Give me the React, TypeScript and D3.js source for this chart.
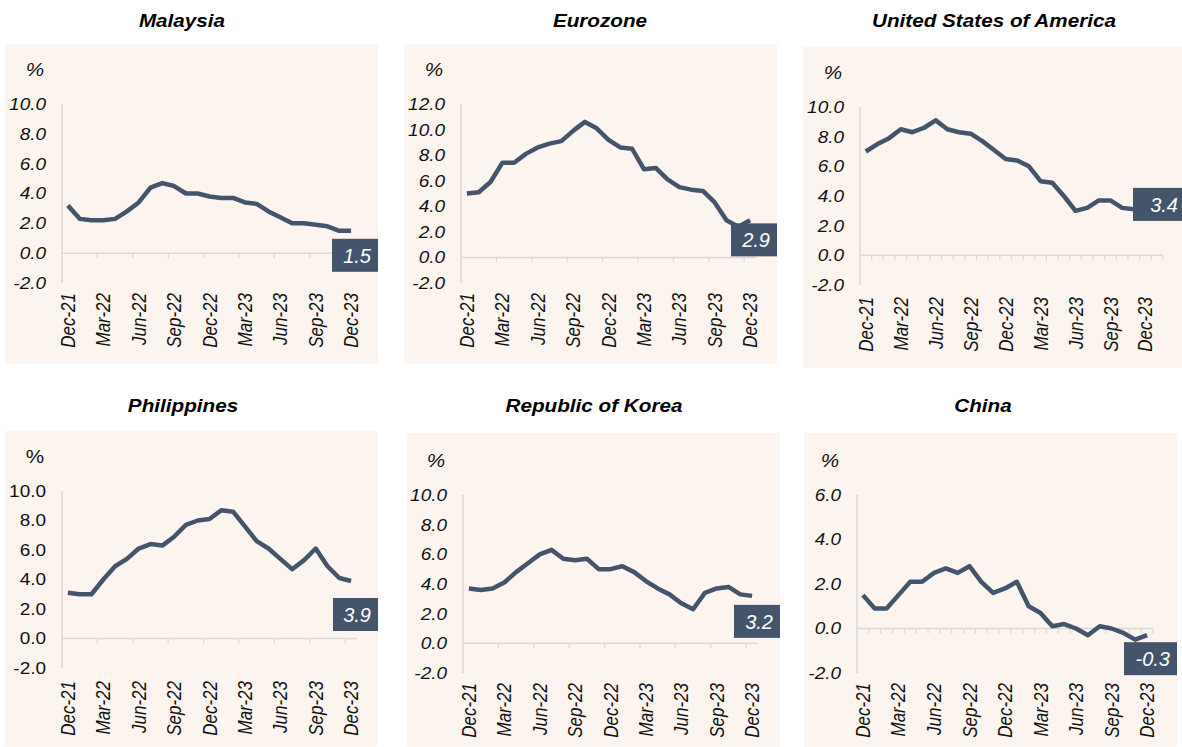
import React from "react";
import * as d3 from "d3";

// monthly categories, Dec-21 .. Dec-23
const months = [
  "Dec-21", "Jan-22", "Feb-22", "Mar-22", "Apr-22", "May-22", "Jun-22", "Jul-22", "Aug-22",
  "Sep-22", "Oct-22", "Nov-22", "Dec-22", "Jan-23", "Feb-23", "Mar-23", "Apr-23", "May-23",
  "Jun-23", "Jul-23", "Aug-23", "Sep-23", "Oct-23", "Nov-23", "Dec-23",
];
const xTickLabels = ["Dec-21", "Mar-22", "Jun-22", "Sep-22", "Dec-22", "Mar-23", "Jun-23", "Sep-23", "Dec-23"];

// inflation, % y-o-y
const malaysia = [3.2, 2.3, 2.2, 2.2, 2.3, 2.8, 3.4, 4.4, 4.7, 4.5, 4.0, 4.0, 3.8, 3.7, 3.7, 3.4, 3.3, 2.8, 2.4, 2.0, 2.0, 1.9, 1.8, 1.5, 1.5];
const eurozone = [5.0, 5.1, 5.9, 7.4, 7.4, 8.1, 8.6, 8.9, 9.1, 9.9, 10.6, 10.1, 9.2, 8.6, 8.5, 6.9, 7.0, 6.1, 5.5, 5.3, 5.2, 4.3, 2.9, 2.4, 2.9];
const usa = [7.0, 7.5, 7.9, 8.5, 8.3, 8.6, 9.1, 8.5, 8.3, 8.2, 7.7, 7.1, 6.5, 6.4, 6.0, 5.0, 4.9, 4.0, 3.0, 3.2, 3.7, 3.7, 3.2, 3.1, 3.4];
const philippines = [3.1, 3.0, 3.0, 4.0, 4.9, 5.4, 6.1, 6.4, 6.3, 6.9, 7.7, 8.0, 8.1, 8.7, 8.6, 7.6, 6.6, 6.1, 5.4, 4.7, 5.3, 6.1, 4.9, 4.1, 3.9];
const korea = [3.7, 3.6, 3.7, 4.1, 4.8, 5.4, 6.0, 6.3, 5.7, 5.6, 5.7, 5.0, 5.0, 5.2, 4.8, 4.2, 3.7, 3.3, 2.7, 2.3, 3.4, 3.7, 3.8, 3.3, 3.2];
const china = [1.5, 0.9, 0.9, 1.5, 2.1, 2.1, 2.5, 2.7, 2.5, 2.8, 2.1, 1.6, 1.8, 2.1, 1.0, 0.7, 0.1, 0.2, 0.0, -0.3, 0.1, 0.0, -0.2, -0.5, -0.3];

const yTicks10 = [-2, 0, 2, 4, 6, 8, 10];
const yTicks12 = [-2, 0, 2, 4, 6, 8, 10, 12];
const yTicks6 = [-2, 0, 2, 4, 6];

const LINE = "#44546A";
const AXIS = "#D9D9D9";
const BG = "#FCF5EF";
const FONT = "'Liberation Sans', Arial, sans-serif";
const SX = 1.15;

const fmt = d3.formatLocale({ decimal: ".", thousands: ",", grouping: [3], currency: ["", ""], minus: "-" }).format(".1f");

const panels = [
  { title: "Malaysia", values: malaysia, ticks: yTicks10, bg: [5, 44, 378, 364], x0: 62, yTop: 104, yBot: 283, slots: 25, step: 11.8, every: 3, titleX: 182, titleY: 27, boxX: 332, boxW: 46, boxDy: 8, italicY: true, lblDy: 10 },
  { title: "Eurozone", values: eurozone, ticks: yTicks12, bg: [404, 44, 777, 364], x0: 461, yTop: 104, yBot: 283, slots: 25, step: 11.8, every: 3, titleX: 600, titleY: 27, boxX: 731, boxW: 46, boxDy: 3, italicY: true, lblDy: 10 },
  { title: "United States of America", values: usa, ticks: yTicks10, bg: [803, 47, 1182, 368], x0: 860, yTop: 107, yBot: 285, slots: 26, step: 11.65, every: 1, titleX: 994, titleY: 27, boxX: 1133, boxW: 52, boxDy: -17, italicY: true, lblDy: 12 },
  { title: "Philippines", values: philippines, ticks: yTicks10, bg: [5, 431, 378, 746], x0: 62, yTop: 491, yBot: 668, slots: 25, step: 11.8, every: 3, titleX: 183, titleY: 412, boxX: 333, boxW: 45, boxDy: 17, italicY: false, lblDy: 13 },
  { title: "Republic of Korea", values: korea, ticks: yTicks10, bg: [407, 433, 780, 746], x0: 463, yTop: 495, yBot: 673, slots: 25, step: 11.8, every: 3, titleX: 594, titleY: 412, boxX: 734, boxW: 46, boxDy: 9, italicY: true, lblDy: 10 },
  { title: "China", values: china, ticks: yTicks6, bg: [804, 433, 1177, 746], x0: 857, yTop: 495, yBot: 673, slots: 25, step: 11.84, every: 1, titleX: 983, titleY: 412, boxX: 1124, boxW: 53, boxDy: 7, italicY: true, lblDy: 10 },
];

function Panel({ p }: { p: any }) {
  const x = d3.scaleBand<number>().domain(d3.range(p.slots)).range([p.x0, p.x0 + p.slots * p.step]);
  const y = d3.scaleLinear().domain([p.ticks[0], p.ticks[p.ticks.length - 1]]).range([p.yBot, p.yTop]);
  const cx = (i: number) => (x(i) as number) + x.bandwidth() / 2;
  const line = d3.line<number>().x((d, i) => cx(i)).y((d) => y(d));
  const y0 = y(0);
  const xEnd = p.x0 + p.slots * x.step();
  const boundaries = d3.range(p.every, p.slots + 1, p.every);
  const last = p.values[p.values.length - 1];
  const boxY = y(last) + p.boxDy;
  const [bx1, by1, bx2, by2] = p.bg;
  const ySt = p.italicY ? "italic" : "normal";

  return (
    <g>
      <rect x={bx1} y={by1} width={bx2 - bx1} height={by2 - by1} fill={BG} />
      <text transform={`translate(${p.titleX},${p.titleY}) scale(${SX},1)`} textAnchor="middle"
        fontFamily={FONT} fontSize={18} fontWeight="bold" fontStyle="italic" fill="#000">{p.title}</text>
      <text transform={`translate(${p.x0 - 27},${p.yTop - 28}) scale(${SX},1)`} textAnchor="middle"
        fontFamily={FONT} fontSize={18} fontStyle={ySt} fill="#111">%</text>

      {/* axes */}
      <line x1={p.x0} x2={p.x0} y1={p.yTop} y2={p.yBot} stroke={AXIS} strokeWidth={1.5} />
      <line x1={p.x0} x2={xEnd} y1={y0} y2={y0} stroke={AXIS} strokeWidth={1.5} />
      {boundaries.map((b) => (
        <line key={b} x1={p.x0 + b * x.step()} x2={p.x0 + b * x.step()} y1={y0} y2={y0 + 5} stroke={AXIS} strokeWidth={1.2} />
      ))}
      {p.ticks.map((t: number) => (
        <text key={t} transform={`translate(${p.x0 - 16},${y(t)}) scale(${SX},1)`} dy="0.36em" textAnchor="end"
          fontFamily={FONT} fontSize={16.5} fontStyle={ySt} fill="#111">
          {fmt(t)}
        </text>
      ))}
      {xTickLabels.map((lbl) => {
        const i = months.indexOf(lbl);
        return (
          <text key={lbl} transform={`translate(${cx(i)},${p.yBot + p.lblDy}) scale(${SX},1) rotate(-90)`} dy="0.36em"
            textAnchor="end" fontFamily={FONT} fontSize={17} fontStyle="italic" fill="#111">{lbl}</text>
        );
      })}

      <path d={line(p.values) as string} fill="none" stroke={LINE} strokeWidth={4.5} strokeLinejoin="round" />

      {/* last value box */}
      <rect x={p.boxX} y={boxY} width={p.boxW} height={33} fill={LINE} />
      <text x={p.boxX + p.boxW - 7} y={boxY + 24} textAnchor="end" fontFamily={FONT} fontSize={20}
        fontStyle="italic" fill="#fff">{fmt(last)}</text>
    </g>
  );
}

export default function App() {
  return (
    <svg width={1182} height={747} style={{ position: "absolute", left: 0, top: 0, background: "#fff" }}>
      {panels.map((p) => <Panel key={p.title} p={p} />)}
    </svg>
  );
}
